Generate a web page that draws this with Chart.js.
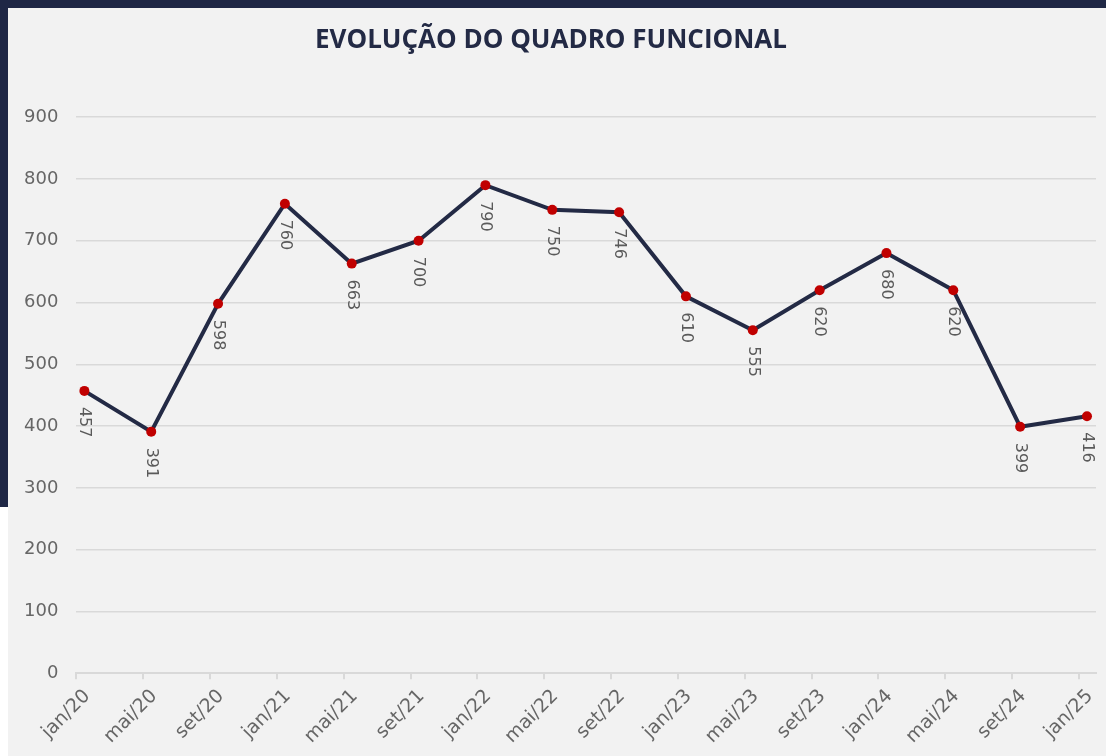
<!DOCTYPE html>
<html>
<head>
<meta charset="utf-8">
<script src="https://cdn.jsdelivr.net/npm/chart.js@4.4.1/dist/chart.umd.min.js"></script>
<style>
  html, body { margin:0; padding:0; width:1106px; height:756px; overflow:hidden; background:#f2f2f2; }
  #wrap { position:relative; width:1106px; height:756px; }
  #topbar { position:absolute; left:0; top:0; width:1106px; height:8px; background:#1f2745; }
  #leftbar { position:absolute; left:0; top:0; width:8px; height:507px; background:#1f2745; }
  #leftwhite { position:absolute; left:0; top:507px; width:8px; height:249px; background:#ffffff; }
  canvas { position:absolute; left:0; top:0; }
</style>
</head>
<body>
<div id="wrap">
  <div id="topbar"></div>
  <div id="leftbar"></div>
  <div id="leftwhite"></div>
  <canvas id="c" width="1106" height="756"></canvas>
</div>
<script>
const titleText = "EVOLUÇÃO DO QUADRO FUNCIONAL";
const categories = ["jan/20","mai/20","set/20","jan/21","mai/21","set/21","jan/22","mai/22","set/22","jan/23","mai/23","set/23","jan/24","mai/24","set/24","jan/25"];
const headcount = [457, 391, 598, 760, 663, 700, 790, 750, 746, 610, 555, 620, 680, 620, 399, 416];
const yTicks = [0, 100, 200, 300, 400, 500, 600, 700, 800, 900];

const TICK_SHIFT = 0.12;
const points = headcount.map((v, i) => ({ x: i, y: v }));

const rotatedLabels = {
  id: 'rotatedLabels',
  afterDatasetsDraw(chart) {
    const ctx = chart.ctx;
    const meta = chart.getDatasetMeta(0);
    ctx.save();
    ctx.font = '16px "DejaVu Sans", sans-serif';
    ctx.fillStyle = '#5a5a5a';
    ctx.textAlign = 'left';
    ctx.textBaseline = 'middle';
    meta.data.forEach((pt, i) => {
      ctx.save();
      ctx.translate(pt.x, pt.y + 16);
      ctx.rotate(Math.PI / 2);
      ctx.fillText(String(headcount[i]), 0, 0);
      ctx.restore();
    });
    ctx.restore();
  }
};

new Chart(document.getElementById('c'), {
  type: 'line',
  data: {
    datasets: [{
      data: points,
      borderColor: '#232a45',
      borderWidth: 4,
      pointBackgroundColor: '#c00000',
      pointBorderColor: '#c00000',
      pointRadius: 5,
      pointBorderWidth: 0,
      tension: 0,
      fill: false
    }]
  },
  options: {
    responsive: false,
    animation: false,
    events: [],
    layout: { padding: { top: 12, left: 6, right: 10, bottom: 2 } },
    plugins: {
      legend: { display: false },
      tooltip: { enabled: false },
      title: {
        display: true,
        text: titleText,
        color: '#232a45',
        font: { family: '"Open Sans", sans-serif', size: 26, weight: 'bold' },
        padding: { top: 13, bottom: 61 }
      }
    },
    scales: {
      x: {
        type: 'linear',
        min: -TICK_SHIFT,
        max: categories.length - 1 + 0.135,
        afterBuildTicks(scale) {
          scale.ticks = categories.map((c, i) => ({ value: i - TICK_SHIFT }));
        },
        ticks: {
          autoSkip: false,
          minRotation: 45,
          maxRotation: 45,
          labelOffset: 11,
          padding: 6,
          color: '#666666',
          font: { family: '"DejaVu Sans", sans-serif', size: 19 },
          callback: (v) => categories[Math.round(v + TICK_SHIFT)]
        },
        grid: {
          drawOnChartArea: false,
          drawTicks: true,
          tickLength: 6,
          color: '#d9d9d9',
          lineWidth: 2
        },
        border: { display: true, color: '#d9d9d9', width: 2 }
      },
      y: {
        min: 0,
        max: 900,
        afterBuildTicks(scale) {
          scale.ticks = yTicks.map(v => ({ value: v }));
        },
        ticks: {
          padding: 18,
          color: '#666666',
          font: { family: '"DejaVu Sans", sans-serif', size: 18 }
        },
        grid: { color: '#d9d9d9', lineWidth: 1.5, drawTicks: false },
        border: { display: false }
      }
    }
  },
  plugins: [rotatedLabels]
});
</script>
</body>
</html>
